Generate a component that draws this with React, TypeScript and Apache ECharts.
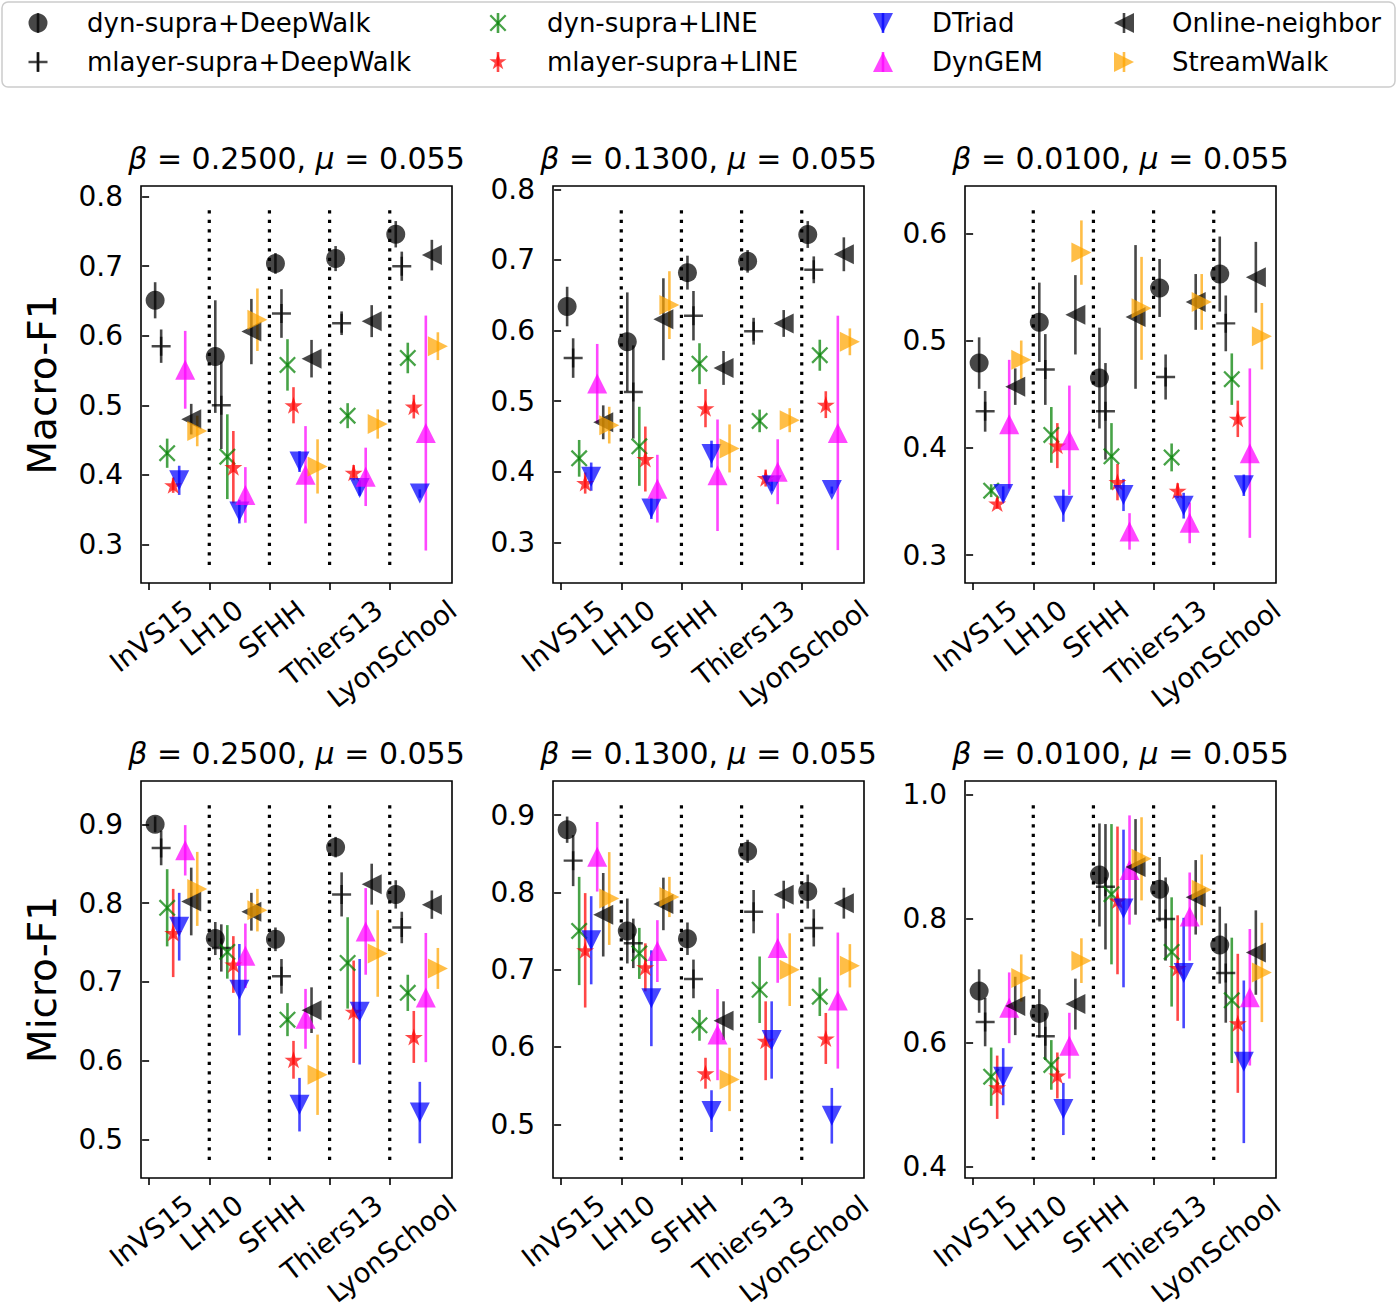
import React, { useEffect, useRef } from 'react';
import * as echarts from 'echarts';

const FONT = 'DejaVu Sans';

const datasets = ['InVS15', 'LH10', 'SFHH', 'Thiers13', 'LyonSchool'];
const methods = [
  'dyn-supra+DeepWalk',
  'mlayer-supra+DeepWalk',
  'dyn-supra+LINE',
  'mlayer-supra+LINE',
  'DTriad',
  'DynGEM',
  'Online-neighbor',
  'StreamWalk',
];
const methodColors = ['#000000', '#000000', '#008000', '#ff0000', '#0000ff', '#ff00ff', '#000000', '#ffa500'];

// Rows: methods (order above); columns: datasets (order above)
// Macro-F1, beta = 0.2500, mu = 0.055
const macroB025Mean = [
  [0.651, 0.570, 0.704, 0.711, 0.746],
  [0.585, 0.500, 0.632, 0.618, 0.700],
  [0.431, 0.426, 0.558, 0.485, 0.568],
  [0.385, 0.411, 0.500, 0.403, 0.498],
  [0.392, 0.347, 0.419, 0.381, 0.373],
  [0.551, 0.371, 0.400, 0.397, 0.460],
  [0.480, 0.606, 0.567, 0.621, 0.716],
  [0.463, 0.623, 0.412, 0.473, 0.585],
];
const macroB025Err = [
  [0.026, 0.081, 0.015, 0.018, 0.019],
  [0.024, 0.063, 0.035, 0.017, 0.021],
  [0.021, 0.061, 0.037, 0.018, 0.022],
  [0.011, 0.052, 0.026, 0.011, 0.017],
  [0.021, 0.017, 0.015, 0.011, 0.006],
  [0.056, 0.040, 0.070, 0.042, 0.169],
  [0.022, 0.047, 0.027, 0.023, 0.022],
  [0.022, 0.045, 0.039, 0.021, 0.020],
];

// Macro-F1, beta = 0.1300
const macroB013Mean = [
  [0.634, 0.584, 0.682, 0.698, 0.736],
  [0.561, 0.513, 0.621, 0.599, 0.686],
  [0.419, 0.436, 0.553, 0.472, 0.565],
  [0.384, 0.418, 0.490, 0.391, 0.495],
  [0.393, 0.348, 0.425, 0.381, 0.374],
  [0.525, 0.376, 0.395, 0.400, 0.455],
  [0.470, 0.616, 0.547, 0.610, 0.708],
  [0.466, 0.636, 0.433, 0.473, 0.584],
];
const macroB013Err = [
  [0.028, 0.070, 0.024, 0.016, 0.019],
  [0.028, 0.066, 0.035, 0.019, 0.019],
  [0.026, 0.056, 0.029, 0.016, 0.022],
  [0.015, 0.046, 0.027, 0.012, 0.019],
  [0.020, 0.015, 0.019, 0.008, 0.005],
  [0.056, 0.048, 0.079, 0.046, 0.166],
  [0.024, 0.058, 0.024, 0.019, 0.024],
  [0.026, 0.048, 0.034, 0.017, 0.019],
];

// Macro-F1, beta = 0.0100
const macroB001Mean = [
  [0.479, 0.517, 0.465, 0.549, 0.562],
  [0.434, 0.473, 0.434, 0.466, 0.516],
  [0.360, 0.412, 0.392, 0.391, 0.464],
  [0.348, 0.402, 0.368, 0.360, 0.427],
  [0.357, 0.346, 0.356, 0.346, 0.365],
  [0.422, 0.407, 0.322, 0.330, 0.395],
  [0.457, 0.524, 0.522, 0.536, 0.559],
  [0.482, 0.582, 0.530, 0.536, 0.504],
];
const macroB001Err = [
  [0.024, 0.037, 0.047, 0.027, 0.035],
  [0.019, 0.033, 0.045, 0.021, 0.026],
  [0.006, 0.026, 0.031, 0.013, 0.024],
  [0.005, 0.021, 0.017, 0.007, 0.017],
  [0.007, 0.015, 0.015, 0.012, 0.010],
  [0.060, 0.051, 0.017, 0.019, 0.079],
  [0.017, 0.037, 0.067, 0.026, 0.033],
  [0.018, 0.030, 0.048, 0.026, 0.031],
];

// Micro-F1, beta = 0.2500
const microB025Mean = [
  [0.900, 0.755, 0.754, 0.871, 0.811],
  [0.870, 0.743, 0.707, 0.811, 0.769],
  [0.794, 0.738, 0.652, 0.724, 0.686],
  [0.762, 0.722, 0.601, 0.662, 0.630],
  [0.770, 0.690, 0.544, 0.662, 0.534],
  [0.867, 0.733, 0.653, 0.764, 0.680],
  [0.802, 0.789, 0.664, 0.824, 0.798],
  [0.818, 0.791, 0.582, 0.736, 0.717],
];
const microB025Err = [
  [0.010, 0.021, 0.015, 0.013, 0.018],
  [0.022, 0.030, 0.022, 0.028, 0.020],
  [0.049, 0.034, 0.021, 0.058, 0.023],
  [0.056, 0.036, 0.024, 0.065, 0.033],
  [0.043, 0.058, 0.034, 0.067, 0.039],
  [0.032, 0.041, 0.038, 0.055, 0.082],
  [0.043, 0.024, 0.029, 0.026, 0.018],
  [0.047, 0.027, 0.051, 0.055, 0.026],
];

// Micro-F1, beta = 0.1300
const microB013Mean = [
  [0.881, 0.750, 0.740, 0.853, 0.801],
  [0.841, 0.734, 0.688, 0.775, 0.754],
  [0.750, 0.721, 0.628, 0.674, 0.665],
  [0.725, 0.703, 0.566, 0.608, 0.611],
  [0.738, 0.663, 0.517, 0.609, 0.511],
  [0.846, 0.724, 0.616, 0.728, 0.660],
  [0.771, 0.785, 0.634, 0.797, 0.786],
  [0.792, 0.794, 0.558, 0.700, 0.705],
];
const microB013Err = [
  [0.017, 0.042, 0.021, 0.015, 0.022],
  [0.033, 0.032, 0.025, 0.028, 0.024],
  [0.070, 0.033, 0.020, 0.043, 0.025],
  [0.074, 0.031, 0.020, 0.051, 0.033],
  [0.057, 0.062, 0.027, 0.050, 0.036],
  [0.045, 0.040, 0.059, 0.045, 0.088],
  [0.054, 0.034, 0.025, 0.018, 0.020],
  [0.060, 0.026, 0.041, 0.047, 0.028],
];

// Micro-F1, beta = 0.0100
const microB001Mean = [
  [0.683, 0.647, 0.870, 0.847, 0.757],
  [0.633, 0.610, 0.851, 0.799, 0.712],
  [0.545, 0.564, 0.839, 0.746, 0.668],
  [0.528, 0.547, 0.829, 0.720, 0.631],
  [0.545, 0.493, 0.816, 0.712, 0.569],
  [0.656, 0.595, 0.878, 0.803, 0.673],
  [0.659, 0.662, 0.883, 0.834, 0.745],
  [0.704, 0.732, 0.896, 0.846, 0.713],
];
const microB001Err = [
  [0.035, 0.039, 0.083, 0.052, 0.062],
  [0.039, 0.038, 0.101, 0.067, 0.080],
  [0.047, 0.040, 0.113, 0.088, 0.101],
  [0.051, 0.037, 0.119, 0.085, 0.112],
  [0.046, 0.042, 0.127, 0.089, 0.131],
  [0.057, 0.053, 0.088, 0.071, 0.110],
  [0.047, 0.041, 0.077, 0.060, 0.068],
  [0.038, 0.036, 0.067, 0.057, 0.080],
];

const yTicksMacro = [0.3, 0.4, 0.5, 0.6, 0.7, 0.8];
const yTicksMacroLow = [0.3, 0.4, 0.5, 0.6];
const yTicksMicro = [0.5, 0.6, 0.7, 0.8, 0.9];
const yTicksMicroLow = [0.4, 0.6, 0.8, 1.0];
const xTickValues = [0, 1, 2, 3, 4];
const separatorValues = [1, 2, 3, 4];

const panels = [
  { beta: '0.2500', mu: '0.055', mean: macroB025Mean, err: macroB025Err, yMin: 0.2443, yMax: 0.8154, ticks: yTicksMacro, ylabel: 'Macro-F1' },
  { beta: '0.1300', mu: '0.055', mean: macroB013Mean, err: macroB013Err, yMin: 0.2424, yMax: 0.8047, ticks: yTicksMacro, ylabel: '' },
  { beta: '0.0100', mu: '0.055', mean: macroB001Mean, err: macroB001Err, yMin: 0.2739, yMax: 0.6441, ticks: yTicksMacroLow, ylabel: '' },
  { beta: '0.2500', mu: '0.055', mean: microB025Mean, err: microB025Err, yMin: 0.4509, yMax: 0.955, ticks: yTicksMicro, ylabel: 'Micro-F1' },
  { beta: '0.1300', mu: '0.055', mean: microB013Mean, err: microB013Err, yMin: 0.4305, yMax: 0.944, ticks: yTicksMicro, ylabel: '' },
  { beta: '0.0100', mu: '0.055', mean: microB001Mean, err: microB001Err, yMin: 0.3818, yMax: 1.0214, ticks: yTicksMicroLow, ylabel: '' },
];

// ---------- layout ----------
const X_MIN = -0.135;
const X_MAX = 5.035;
const GRID_LEFTS = [141, 553, 965];
const GRID_TOPS = [186, 781];
const GRID_W = 311;
const GRID_H = 397;
const OPACITY = 0.72;
const TICK_FONT = 28;
const XTICK_FONT = 27.5;
const XTICK_ROT = 38;
const TITLE_FONT = 30;
const LEGEND_FONT = 26;
const YLABEL_FONT = 39;

type Pt = [number, number];
const W = 0.13;
const plusPts: Pt[] = [[-W, -1], [W, -1], [W, -W], [1, -W], [1, W], [W, W], [W, 1], [-W, 1], [-W, W], [-1, W], [-1, -W], [-W, -W]];
const D = 0.19;
const xPts: Pt[] = [[-1, -1 + D], [-1 + D, -1], [0, -D], [1 - D, -1], [1, -1 + D], [D, 0], [1, 1 - D], [1 - D, 1], [0, D], [-1 + D, 1], [-1, 1 - D], [-D, 0]];
const starPts: Pt[] = Array.from({ length: 10 }, (_, k) => {
  const r = k % 2 === 0 ? 1 : 0.382;
  const a = ((-90 + 36 * k) * Math.PI) / 180;
  return [r * Math.cos(a), r * Math.sin(a)] as Pt;
});
const triDown: Pt[] = [[-1, -1], [1, -1], [0, 1]];
const triUp: Pt[] = [[0, -1], [1, 1], [-1, 1]];
const triLeft: Pt[] = [[-1, 0], [1, -1], [1, 1]];
const triRight: Pt[] = [[-1, -1], [1, 0], [-1, 1]];

const markerShapes: { pts: Pt[] | null; size: number }[] = [
  { pts: null, size: 19 },
  { pts: plusPts, size: 19 },
  { pts: xPts, size: 17 },
  { pts: starPts, size: 18 },
  { pts: triDown, size: 20 },
  { pts: triUp, size: 20 },
  { pts: triLeft, size: 20 },
  { pts: triRight, size: 20 },
];

function pathSymbol(pts: Pt[]) {
  return 'path://M' + pts.map(([x, y]) => `${((x + 1) * 50).toFixed(2)},${((y + 1) * 50).toFixed(2)}`).join(' L') + ' Z';
}

function buildOption() {
  const grid: any[] = [];
  const xAxis: any[] = [];
  const yAxis: any[] = [];
  const series: any[] = [];
  panels.forEach((p, pi) => {
    const col = pi % 3;
    const row = Math.floor(pi / 3);
    grid.push({
      left: GRID_LEFTS[col], top: GRID_TOPS[row], width: GRID_W, height: GRID_H,
      show: true, borderColor: '#000', borderWidth: 1.6, backgroundColor: 'transparent',
    });
    xAxis.push({
      type: 'value', gridIndex: pi, min: X_MIN, max: X_MAX,
      axisLine: { show: false },
      axisTick: { show: true, customValues: xTickValues, length: 7, lineStyle: { color: '#000', width: 1.6 } },
      axisLabel: { show: false },
      splitLine: { show: false },
    });
    yAxis.push({
      type: 'value', gridIndex: pi, min: p.yMin, max: p.yMax,
      axisLine: { show: false },
      axisTick: { show: true, customValues: p.ticks, length: 7, lineStyle: { color: '#000', width: 1.6 } },
      axisLabel: {
        customValues: p.ticks, formatter: (v: number) => v.toFixed(1),
        fontSize: TICK_FONT, fontFamily: FONT, color: '#000', margin: 18,
      },
      splitLine: { show: false },
    });
    const r = p.yMax - p.yMin;
    const lo = p.yMin + r / 22;
    const hi = p.yMax - r / 22;
    series.push({
      type: 'custom', xAxisIndex: pi, yAxisIndex: pi, silent: true,
      data: separatorValues.map((v) => [v, lo]),
      encode: { x: 0, y: 1 },
      renderItem: (params: any, api: any) => {
        const x = api.value(0);
        const a = api.coord([x, lo]);
        const b = api.coord([x, hi]);
        return {
          type: 'line',
          shape: { x1: a[0], y1: a[1], x2: b[0], y2: b[1] },
          style: { stroke: '#000', lineWidth: 3.2, lineDash: [3.2, 6.3] },
        };
      },
    });
    methods.forEach((m, mi) => {
      const color = methodColors[mi];
      const pts = datasets.map((_, g) => [g + 0.1 * (mi + 1), p.mean[mi][g], p.err[mi][g]]);
      series.push({
        type: 'custom', xAxisIndex: pi, yAxisIndex: pi, silent: true,
        data: pts,
        encode: { x: 0, y: 1 },
        renderItem: (params: any, api: any) => {
          const x = api.value(0);
          const y = api.value(1);
          const e = api.value(2);
          const a = api.coord([x, y - e]);
          const b = api.coord([x, y + e]);
          return {
            type: 'line',
            shape: { x1: a[0], y1: a[1], x2: b[0], y2: b[1] },
            style: { stroke: color, lineWidth: 2.6, opacity: OPACITY },
          };
        },
      });
      const shp = markerShapes[mi];
      series.push({
        type: 'scatter', name: m, xAxisIndex: pi, yAxisIndex: pi, silent: true,
        data: pts.map((d) => [d[0], d[1]]),
        symbol: shp.pts ? pathSymbol(shp.pts) : 'circle',
        symbolSize: shp.size,
        symbolKeepAspect: true,
        itemStyle: { color, opacity: OPACITY },
      });
    });
  });
  return { animation: false, backgroundColor: '#ffffff', grid, xAxis, yAxis, series };
}

function measure(text: string, size: number) {
  const c = document.createElement('canvas').getContext('2d')!;
  c.font = `${size}px "${FONT}"`;
  return c.measureText(text).width;
}

function buildGraphics(chart: any) {
  const g: any[] = [];
  // legend
  g.push({
    type: 'rect', shape: { x: 2, y: 2, width: 1393, height: 85, r: 6 },
    style: { fill: '#ffffff', stroke: '#cccccc', lineWidth: 1.5 },
  });
  const legendMarkerX = [38, 498, 883, 1124];
  const legendTextX = [87, 547, 932, 1172];
  const legendRowY = [23, 62];
  methods.forEach((m, mi) => {
    const col = Math.floor(mi / 2);
    const row = mi % 2;
    const cx = legendMarkerX[col];
    const cy = legendRowY[row];
    const color = methodColors[mi];
    const shp = markerShapes[mi];
    g.push({
      type: 'line', shape: { x1: cx, y1: cy - 10, x2: cx, y2: cy + 10 },
      style: { stroke: color, lineWidth: 2.6, opacity: OPACITY },
    });
    if (shp.pts) {
      const h = shp.size / 2;
      g.push({
        type: 'polygon', shape: { points: shp.pts.map(([x, y]) => [cx + x * h, cy + y * h]) },
        style: { fill: color, opacity: OPACITY },
      });
    } else {
      g.push({ type: 'circle', shape: { cx, cy, r: shp.size / 2 }, style: { fill: color, opacity: OPACITY } });
    }
    g.push({
      type: 'text', x: legendTextX[col], y: cy,
      style: { text: m, fontSize: LEGEND_FONT, fontFamily: FONT, fill: '#000', align: 'left', verticalAlign: 'middle' },
    });
  });
  const rot = (XTICK_ROT * Math.PI) / 180;
  panels.forEach((p, pi) => {
    const finder = { xAxisIndex: pi, yAxisIndex: pi };
    const tl = chart.convertToPixel(finder, [X_MIN, p.yMax]);
    const br = chart.convertToPixel(finder, [X_MAX, p.yMin]);
    // title
    g.push({
      type: 'text', x: (tl[0] + br[0]) / 2, y: tl[1] - 28,
      style: {
        text: `{i|β} = ${p.beta}, {i|μ} = ${p.mu}`,
        rich: { i: { fontStyle: 'italic', fontSize: TITLE_FONT, fontFamily: FONT, fill: '#000' } },
        fontSize: TITLE_FONT, fontFamily: FONT, fill: '#000', align: 'center', verticalAlign: 'middle',
      },
    });
    // x tick labels
    datasets.forEach((d, di) => {
      const pt = chart.convertToPixel(finder, [xTickValues[di], p.yMin]);
      const L = measure(d, XTICK_FONT);
      const h = XTICK_FONT * 1.1;
      const H = L * Math.sin(rot) + h * Math.cos(rot);
      g.push({
        type: 'text', x: pt[0] + 2, y: pt[1] + 11 + H / 2, rotation: rot,
        style: { text: d, fontSize: XTICK_FONT, fontFamily: FONT, fill: '#000', align: 'center', verticalAlign: 'middle' },
      });
    });
    if (p.ylabel) {
      const mid = chart.convertToPixel(finder, [X_MIN, (p.yMin + p.yMax) / 2]);
      g.push({
        type: 'text', x: mid[0] - 99, y: mid[1], rotation: Math.PI / 2,
        style: { text: p.ylabel, fontSize: YLABEL_FONT, fontFamily: FONT, fill: '#000', align: 'center', verticalAlign: 'middle' },
      });
    }
  });
  return g;
}

export default function App() {
  const ref = useRef<HTMLDivElement>(null);
  useEffect(() => {
    const el = ref.current!;
    const chart = echarts.init(el, null, { renderer: 'svg' });
    chart.setOption(buildOption());
    chart.setOption({ graphic: buildGraphics(chart) });
    return () => chart.dispose();
  }, []);
  return (
    <div
      ref={ref}
      style={{ position: 'absolute', left: 0, top: 0, width: 1397, height: 1309, background: '#ffffff' }}
    />
  );
}
